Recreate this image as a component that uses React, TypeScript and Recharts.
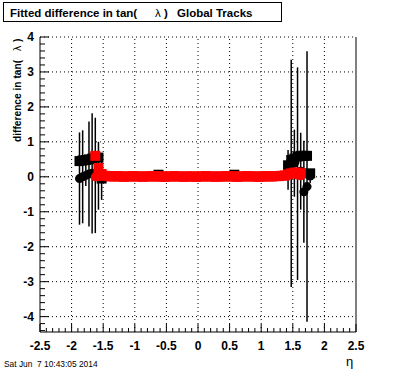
import React from 'react';
import { ScatterChart, Scatter, XAxis, YAxis, ReferenceLine, ErrorBar } from 'recharts';

const FONT = '"Liberation Sans", Arial, Helvetica, sans-serif';

// major tick labels
const xMajor = [-2.5, -2, -1.5, -1, -0.5, 0, 0.5, 1, 1.5, 2, 2.5];
const yMajor = [-4, -3, -2, -1, 0, 1, 2, 3, 4];

// black squares
const sqEta = [-1.875, -1.825, -1.775, -1.725, -1.675, -1.625, -1.575, -1.525, -0.625, 0.575,
  1.425, 1.475, 1.525, 1.575, 1.625, 1.675, 1.725, 1.775];
const sqMean = [0.45, 0.47, 0.48, 0.5, 0.52, 0.56, 0.55, -0.05, 0.06, 0.06,
  0.33, 0.48, 0.52, 0.58, 0.6, 0.6, 0.6, 0.1];

// black circles (with error bars)
const circEta = [-1.875, -1.825, -1.775, -1.725, -1.675, -1.625, -1.575, -1.525,
  1.425, 1.475, 1.525, 1.575, 1.625, 1.675, 1.725, 1.775];
const circMean = [-0.05, 0.0, 0.04, 0.08, 0.1, 0.04, 0.03, -0.04,
  0.2, 0.1, 0.39, 0.09, 0.16, -0.43, -0.28, 0.02];
const circErr = [1.32, 1.33, 0.3, 1.5, 1.72, 1.65, 0.97, 0.62,
  0.57, 3.25, 0.96, 3.04, 1.1, 1.46, 3.87, 0.2];

// red squares
const redEta = [
  -1.625, -1.575, -1.525, -1.475, -1.425, -1.375, -1.325, -1.275, -1.225, -1.175,
  -1.125, -1.075, -1.025, -0.975, -0.925, -0.875, -0.825, -0.775, -0.725, -0.675,
  -0.625, -0.575, -0.525, -0.475, -0.425, -0.375, -0.325, -0.275, -0.225, -0.175,
  -0.125, -0.075, -0.025, 0.025, 0.075, 0.125, 0.175, 0.225, 0.275, 0.325,
  0.375, 0.425, 0.475, 0.525, 0.575, 0.625, 0.675, 0.725, 0.775, 0.825,
  0.875, 0.925, 0.975, 1.025, 1.075, 1.125, 1.175, 1.225, 1.275, 1.325,
  1.375, 1.425, 1.475, 1.525, 1.575, 1.625,
];
const redMean = [
  0.6, 0.25, 0.08, 0.03, 0.02, 0.01, 0.01, 0.02, 0.01, 0.0,
  0.01, 0.01, 0.02, 0.01, 0.01, 0.0, 0.01, 0.01, 0.02, 0.01,
  0.01, 0.01, 0.0, 0.01, 0.01, 0.02, 0.01, 0.01, 0.0, 0.01,
  0.01, 0.01, 0.0, 0.01, 0.01, 0.02, 0.01, 0.01, 0.0, 0.01,
  0.01, 0.01, 0.02, 0.01, 0.01, 0.0, 0.01, 0.01, 0.02, 0.01,
  0.01, 0.01, 0.0, 0.01, 0.02, 0.01, 0.01, 0.02, 0.02, 0.03,
  0.04, 0.07, 0.1, 0.12, 0.12, 0.1,
];

// red circles
const redCircEta = [-1.625, -1.575, 1.575, 1.625];
const redCircMean = [0.0, 0.0, 0.05, 0.03];

const toPts = (xs: number[], ys: number[], es?: number[]) =>
  xs.map((x, i) => ({ x, y: ys[i], err: es ? es[i] : 0 }));

const squares = toPts(sqEta, sqMean);
const circles = toPts(circEta, circMean, circErr);
const reds = toPts(redEta, redMean);
const redCircles = toPts(redCircEta, redCircMean);

// minor ticks filled in between the majors
const minorTicks = (lo: number, hi: number, step: number) => {
  const out: number[] = [];
  for (let v = lo; v <= hi + 1e-9; v += step) out.push(Math.round(v * 100) / 100);
  return out;
};
const xTicks = minorTicks(-2.5, 2.5, 0.1);
const yTicks = minorTicks(-4.4, 4, 0.2);

const isMajor = (v: number, majors: number[]) => majors.some((m) => Math.abs(m - v) < 1e-6);

const XTick = (props: any) => {
  const { x, y, payload } = props;
  const major = isMajor(payload.value, xMajor);
  return (
    <g>
      <line x1={x} x2={x} y1={y} y2={y - (major ? 8 : 4)} stroke="#000" />
      {major && (
        <text x={x} y={y + 18} textAnchor="middle" fontFamily={FONT} fontWeight="bold" fontSize={12} fill="#000">
          {String(payload.value)}
        </text>
      )}
    </g>
  );
};

const YTick = (props: any) => {
  const { x, y, payload } = props;
  const major = isMajor(payload.value, yMajor);
  return (
    <g>
      <line x1={x} x2={x + (major ? 9 : 5)} y1={y} y2={y} stroke="#000" />
      {major && (
        <text x={x - 6} y={y} dy="0.36em" textAnchor="end" fontFamily={FONT} fontWeight="bold" fontSize={12} fill="#000">
          {String(payload.value)}
        </text>
      )}
    </g>
  );
};

const Square = (color: string) => (p: any) =>
  <rect x={p.cx - 5} y={p.cy - 5} width={10} height={10} fill={color} />;
const Dot = (color: string) => (p: any) =>
  <circle cx={p.cx} cy={p.cy} r={4.5} fill={color} />;
const Nothing = () => <g />;

export default function App() {
  return (
    <div style={{ position: 'absolute', left: 0, top: 0, width: 396, height: 372, background: '#fff' }}>
      <ScatterChart width={396} height={372} margin={{ top: 37, right: 40, bottom: 0, left: 0 }}>
        <XAxis
          type="number"
          dataKey="x"
          domain={[-2.5, 2.5]}
          ticks={xTicks}
          interval={0}
          allowDataOverflow
          height={40}
          tickSize={0}
          tickMargin={0}
          tickLine={false}
          axisLine={{ stroke: '#000' }}
          tick={XTick}
        />
        <YAxis
          type="number"
          dataKey="y"
          domain={[-4.44, 4]}
          ticks={yTicks}
          interval={0}
          allowDataOverflow
          width={40}
          tickSize={0}
          tickMargin={0}
          tickLine={false}
          axisLine={{ stroke: '#000' }}
          tick={YTick}
        />
        {xMajor.slice(1, -1).map((v) => (
          <ReferenceLine key={'gx' + v} x={v} stroke="#000" strokeDasharray="1 3" />
        ))}
        {yMajor.map((v) => (
          <ReferenceLine key={'gy' + v} y={v} stroke="#000" strokeDasharray="1 3" />
        ))}
        <ReferenceLine x={2.5} stroke="#000" />
        <Scatter data={squares} shape={Square('#000')} isAnimationActive={false} />
        <Scatter data={circles} shape={Dot('#000')} isAnimationActive={false} />
        <Scatter data={reds} shape={Square('#f00')} isAnimationActive={false} />
        <Scatter data={redCircles} shape={Dot('#f00')} isAnimationActive={false} />
        <Scatter data={circles} shape={Nothing} isAnimationActive={false}>
          <ErrorBar dataKey="err" direction="y" width={0} stroke="#000" strokeWidth={1.5} />
        </Scatter>
      </ScatterChart>
      <svg width={396} height={372} style={{ position: 'absolute', left: 0, top: 0, pointerEvents: 'none' }}>
        <rect x={3.5} y={2.5} width={278} height={19} fill="#fff" stroke="#000" />
        <text x={10} y={17} fontFamily={FONT} fontWeight="bold" fontSize={11.5}>Fitted difference in tan(</text>
        <text x={155} y={17} fontFamily={FONT} fontSize={11.5}>λ</text>
        <text x={164} y={17} fontFamily={FONT} fontWeight="bold" fontSize={11.5}>)</text>
        <text x={177} y={17} fontFamily={FONT} fontWeight="bold" fontSize={11.5}>Global Tracks</text>
        <g transform="translate(21,142) rotate(-90)">
          <text x={0} y={0} fontFamily={FONT} fontWeight="bold" fontSize={10.2}>difference in tan(</text>
          <text x={91} y={0} fontFamily={FONT} fontSize={10.5}>λ</text>
          <text x={100} y={0} fontFamily={FONT} fontWeight="bold" fontSize={10.2}>)</text>
        </g>
        <text x={346} y={366} fontFamily={FONT} fontSize={13}>η</text>
        <text x={4} y={367} fontFamily={FONT} fontSize={8.4} style={{ whiteSpace: 'pre' }}>Sat Jun  7 10:43:05 2014</text>
      </svg>
    </div>
  );
}
